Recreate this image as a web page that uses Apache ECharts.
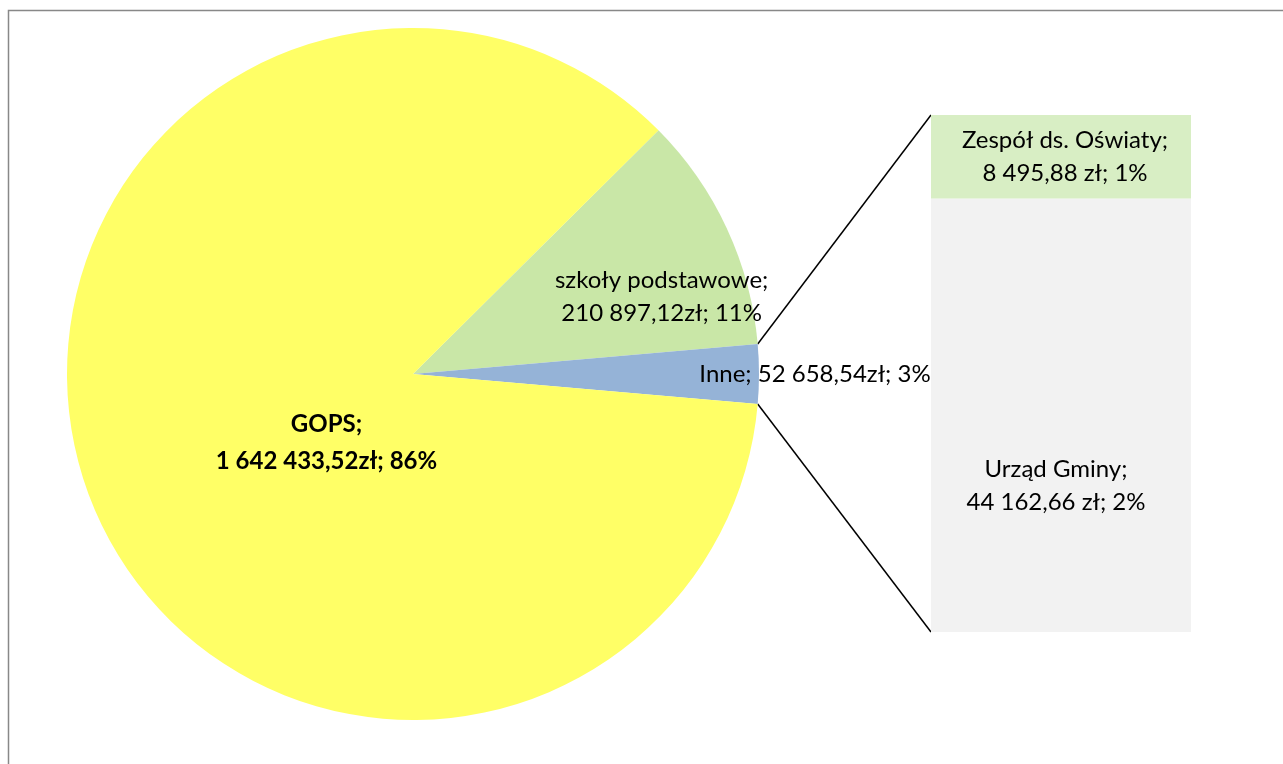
<!DOCTYPE html>
<html>
<head>
<meta charset="utf-8">
<script src="https://cdn.jsdelivr.net/npm/echarts@6/dist/echarts.min.js"></script>
<style>
html,body{margin:0;padding:0;background:#fff;}
#c{width:1283px;height:764px;}
</style>
</head>
<body>
<div id="c"></div>
<script>
// Pie data (order = clockwise from the start angle)
const pieNames = ['szkoły podstawowe', 'Inne', 'GOPS'];
const pieValues = [210897.12, 52658.54, 1642433.52];
const piePercents = ['11%', '3%', '86%'];
// Secondary bar ("Inne" breakdown), bottom to top
const barNames = ['Urząd Gminy', 'Zespół ds. Oświaty'];
const barValues = [44162.66, 8495.88];
const barPercents = ['2%', '1%'];

const pieColors = ['#C9E7A7', '#95B3D7', '#FFFF66'];
const barColors = ['#F2F2F2', '#D8EEC4'];
const FONT = 'Lato';

function pl(v) {
  const parts = v.toFixed(2).split('.');
  parts[0] = parts[0].replace(/\B(?=(\d{3})+(?!\d))/g, ' ');
  return parts[0] + ',' + parts[1];
}

const pieTotal = pieValues.reduce((a, b) => a + b, 0);
const degs = pieValues.map(v => v / pieTotal * 360);
// Inne slice centered on the 3 o'clock direction
const startAngle = degs[0] + degs[1] / 2;

const pieCenter = [413, 374];
const pieRadius = 346;

const labelOffsets = [[89, -3], [226, 0], [79, 9]];
const pieData = pieNames.map((n, i) => ({
  name: n,
  value: pieValues[i],
  itemStyle: { color: pieColors[i] },
  label: {
    offset: labelOffsets[i],
    fontWeight: n === 'GOPS' ? 'bold' : 'normal',
    lineHeight: n === 'GOPS' ? 37 : 33,
    formatter: n === 'Inne'
      ? n + '; ' + pl(pieValues[i]) + 'zł; ' + piePercents[i]
      : n + ';\n' + pl(pieValues[i]) + 'zł; ' + piePercents[i]
  }
}));

const barTotal = barValues.reduce((a, b) => a + b, 0);
const barLabelOffsets = [[-5, 71], [4, 0]];

const chart = echarts.init(document.getElementById('c'), null, { renderer: 'canvas' });
const option = {
  animation: false,
  backgroundColor: '#ffffff',
  textStyle: { fontFamily: FONT },
  grid: { left: 931, top: 115, width: 260, height: 517 },
  xAxis: { type: 'category', data: [''], show: false },
  yAxis: { type: 'value', min: 0, max: barTotal, show: false },
  series: [
    {
      type: 'pie',
      center: pieCenter,
      radius: pieRadius,
      startAngle: startAngle,
      clockwise: true,
      silent: true,
      data: pieData,
      label: {
        show: true,
        position: 'inside',
        color: '#000',
        fontFamily: FONT,
        fontSize: 24,
        lineHeight: 33,
        align: 'center'
      },
      labelLine: { show: false },
      itemStyle: { borderWidth: 0 }
    }
  ].concat(barNames.map((n, i) => ({
    type: 'bar',
    stack: 'inne',
    barWidth: '100%',
    barCategoryGap: 0,
    silent: true,
    data: [barValues[i]],
    itemStyle: { color: barColors[i] },
    label: {
      show: true,
      position: 'inside',
      offset: barLabelOffsets[i],
      color: '#000',
      fontFamily: FONT,
      fontSize: 24,
      lineHeight: 33,
      formatter: n + ';\n' + pl(barValues[i]) + ' zł; ' + barPercents[i]
    }
  })))
};
chart.setOption(option);

// connector lines from the Inne slice edges to the bar corners
function connectors() {
  const a1 = (startAngle - degs[0]) * Math.PI / 180;
  const a2 = (startAngle - degs[0] - degs[1]) * Math.PI / 180;
  const p1 = [pieCenter[0] + pieRadius * Math.cos(a1), pieCenter[1] - pieRadius * Math.sin(a1)];
  const p2 = [pieCenter[0] + pieRadius * Math.cos(a2), pieCenter[1] - pieRadius * Math.sin(a2)];
  const axis = chart.getModel().getComponent('xAxis', 0).axis;
  const half = axis.getBandWidth() / 2;
  const top = chart.convertToPixel({ xAxisIndex: 0, yAxisIndex: 0 }, [0, barTotal]);
  const bot = chart.convertToPixel({ xAxisIndex: 0, yAxisIndex: 0 }, [0, 0]);
  const q1 = [top[0] - half, top[1]];
  const q2 = [bot[0] - half, bot[1]];
  chart.setOption({
    graphic: [
      { type: 'line', shape: { x1: p1[0], y1: p1[1], x2: q1[0], y2: q1[1] }, style: { stroke: '#000', lineWidth: 1.5 }, silent: true },
      { type: 'line', shape: { x1: p2[0], y1: p2[1], x2: q2[0], y2: q2[1] }, style: { stroke: '#000', lineWidth: 1.5 }, silent: true },
      { type: 'rect', shape: { x: 8.5, y: 10.5, width: 1400, height: 900 }, style: { fill: 'none', stroke: '#888888', lineWidth: 1.5 }, silent: true }
    ]
  });
}
connectors();
</script>
</body>
</html>
